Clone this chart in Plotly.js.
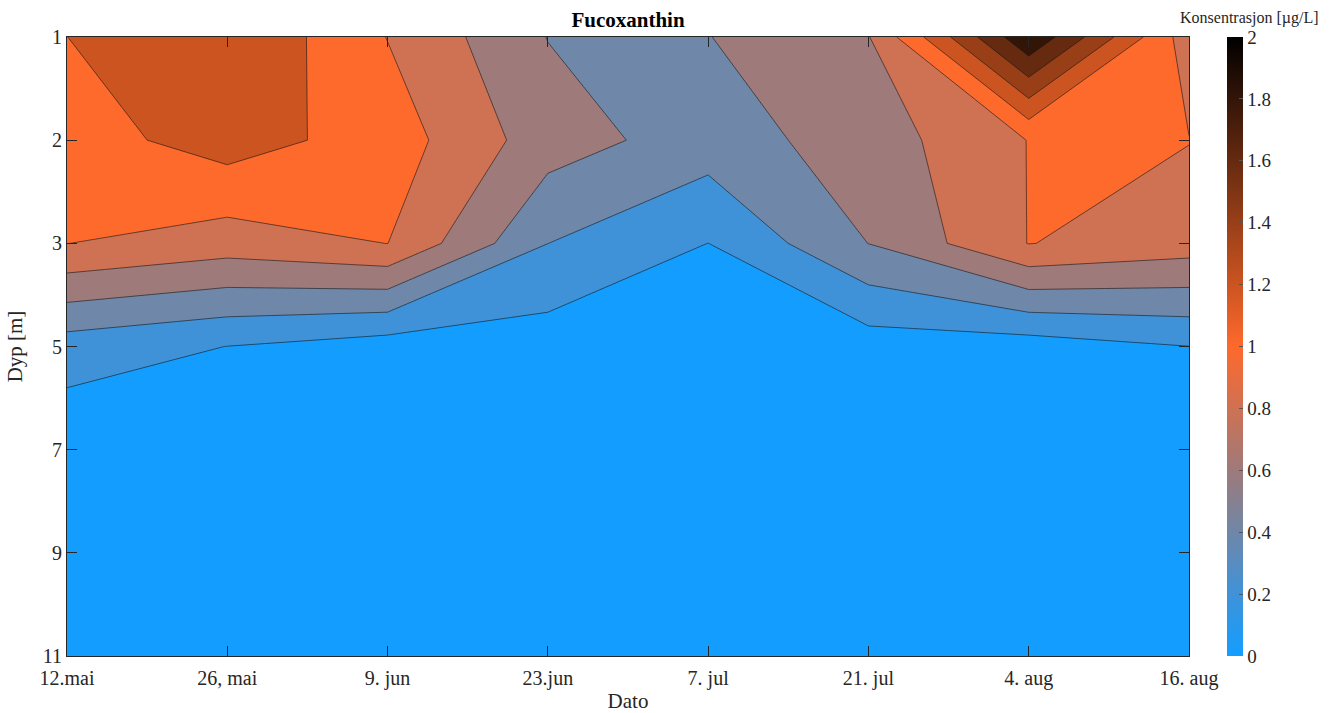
<!DOCTYPE html>
<html>
<head>
<meta charset="utf-8">
<script src="https://cdn.plot.ly/plotly-3.0.1.min.js"></script>
<style>
  html, body { margin: 0; padding: 0; background: #ffffff; }
  #chart { width: 1332px; height: 713px; }
</style>
</head>
<body>
<div id="chart"></div>
<script>
// ---- data ----
const dates = ['12.mai', '26, mai', '9. jun', '23.jun', '7. jul', '21. jul', '4. aug', '16. aug'];
const depthLabels = ['1', '2', '3', '5', '7', '9', '11'];

// Fucoxanthin concentration [µg/L], one row per depth (top to bottom), one column per date
const conc_d1  = [1.199, 1.40, 0.995, 0.595, 0.595, 0.79, 1.98, 0.89];
const conc_d2  = [1.106, 1.294, 1.106, 0.694, 0.502, 0.698, 1.005, 1.005];
const conc_d3  = [1.002, 0.90, 1.002, 0.401, 0.199, 0.602, 1.005, 0.90];
const conc_d5  = [0.30, 0.198, 0.10, 0.10, 0.05, 0.10, 0.10, 0.198];
const conc_d7  = [0.05, 0.08, 0.06, 0.05, 0.04, 0.05, 0.06, 0.08];
const conc_d9  = [0.04, 0.04, 0.03, 0.03, 0.02, 0.03, 0.03, 0.04];
const conc_d11 = [0.03, 0.02, 0.02, 0.02, 0.01, 0.02, 0.02, 0.03];

const levels = [0, 0.2, 0.4, 0.6, 0.8, 1.0, 1.2, 1.4, 1.6, 1.8, 2.0];

// ---- style ----
const palette = ['#139EFF', '#4092D8', '#6F87A8', '#9E7A7A', '#CF7153', '#FE692C',
                 '#CB5420', '#983F18', '#662A10', '#331508', '#000000'];
const serif = 'Liberation Serif, Times New Roman, serif';
const axisColor = '#262626';

const Z = [conc_d1, conc_d2, conc_d3, conc_d5, conc_d7, conc_d9, conc_d11];
const xIdx = dates.map((d, i) => i + 1);
const yIdx = depthLabels.map((d, i) => i + 1);

const zMin = levels[0], zMax = levels[levels.length - 1];
const step = levels[1] - levels[0];
const nBands = levels.length - 1;

// band k (levels[k]..levels[k+1]) is filled with the colormap colour at its lower level;
// plotly samples band colours at their mid-points
const fillScale = [[0, palette[0]]];
for (let k = 0; k < nBands; k++) fillScale.push([(k + 0.5) / nBands, palette[k]]);
fillScale.push([1, palette[nBands - 1]]);

// continuous colorbar
const barScale = levels.map((v, i) => [(v - zMin) / (zMax - zMin), palette[i]]);

const contour = {
  type: 'contour',
  x: xIdx, y: yIdx, z: Z,
  zmin: zMin, zmax: zMax,
  autocontour: false,
  contours: { start: zMin, end: zMax, size: step, coloring: 'fill', showlines: true },
  colorscale: fillScale,
  line: { color: 'rgba(20,20,20,0.85)', width: 0.7, smoothing: 0 },
  showscale: false,
  hoverinfo: 'skip'
};

const cbDummy = {
  type: 'scatter', mode: 'markers',
  x: [xIdx[0], xIdx[0]], y: [yIdx[0], yIdx[0]],
  marker: {
    color: [zMin, zMax], cmin: zMin, cmax: zMax, colorscale: barScale,
    opacity: 0, size: 1, showscale: true,
    colorbar: {
      x: 1.0339, xanchor: 'left', xpad: 0,
      y: 0.5, yanchor: 'middle', ypad: 0,
      len: 1, lenmode: 'fraction',
      thickness: 16, thicknessmode: 'pixels',
      outlinewidth: 0,
      tickmode: 'array', tickvals: levels, ticktext: levels.map(v => String(v)),
      ticks: 'inside', ticklen: 4, tickcolor: '#555',
      tickfont: { family: serif, size: 19, color: axisColor }
    }
  },
  hoverinfo: 'skip', showlegend: false
};

const layout = {
  width: 1332, height: 713,
  margin: { l: 67, r: 143, t: 37, b: 57 },
  paper_bgcolor: '#ffffff', plot_bgcolor: '#ffffff',
  font: { family: serif, color: axisColor, size: 20 },
  showlegend: false,
  title: {
    text: '<b>Fucoxanthin</b>',
    font: { family: serif, size: 21, color: '#000000' },
    x: 0.5, xref: 'paper', xanchor: 'center',
    y: 1 - 20 / 713, yref: 'container', yanchor: 'middle'
  },
  xaxis: {
    range: [xIdx[0], xIdx[xIdx.length - 1]],
    tickmode: 'array', tickvals: xIdx, ticktext: dates,
    ticks: 'inside', ticklen: 10, tickcolor: axisColor, tickwidth: 1,
    ticklabelstandoff: 4,
    showline: true, linecolor: axisColor, linewidth: 1, mirror: 'ticks',
    showgrid: false, zeroline: false,
    tickfont: { family: serif, size: 20, color: axisColor },
    title: { text: 'Dato', font: { family: serif, size: 21, color: axisColor }, standoff: 4 }
  },
  yaxis: {
    range: [yIdx[yIdx.length - 1], yIdx[0]],
    tickmode: 'array', tickvals: yIdx, ticktext: depthLabels,
    ticks: 'inside', ticklen: 10, tickcolor: axisColor, tickwidth: 1,
    showline: true, linecolor: axisColor, linewidth: 1, mirror: 'ticks',
    showgrid: false, zeroline: false,
    tickfont: { family: serif, size: 20, color: axisColor },
    title: { text: 'Dyp [m]', font: { family: serif, size: 21, color: axisColor }, standoff: 14 }
  },
  annotations: [{
    text: 'Konsentrasjon [µg/L]',
    xref: 'paper', yref: 'paper',
    x: (1249 - 67) / 1122, y: 1 + (37 - 18) / 619,
    xanchor: 'center', yanchor: 'middle', showarrow: false,
    font: { family: serif, size: 16, color: axisColor }
  }]
};

Plotly.newPlot('chart', [contour, cbDummy], layout, { displayModeBar: false, staticPlot: true });
</script>
</body>
</html>
